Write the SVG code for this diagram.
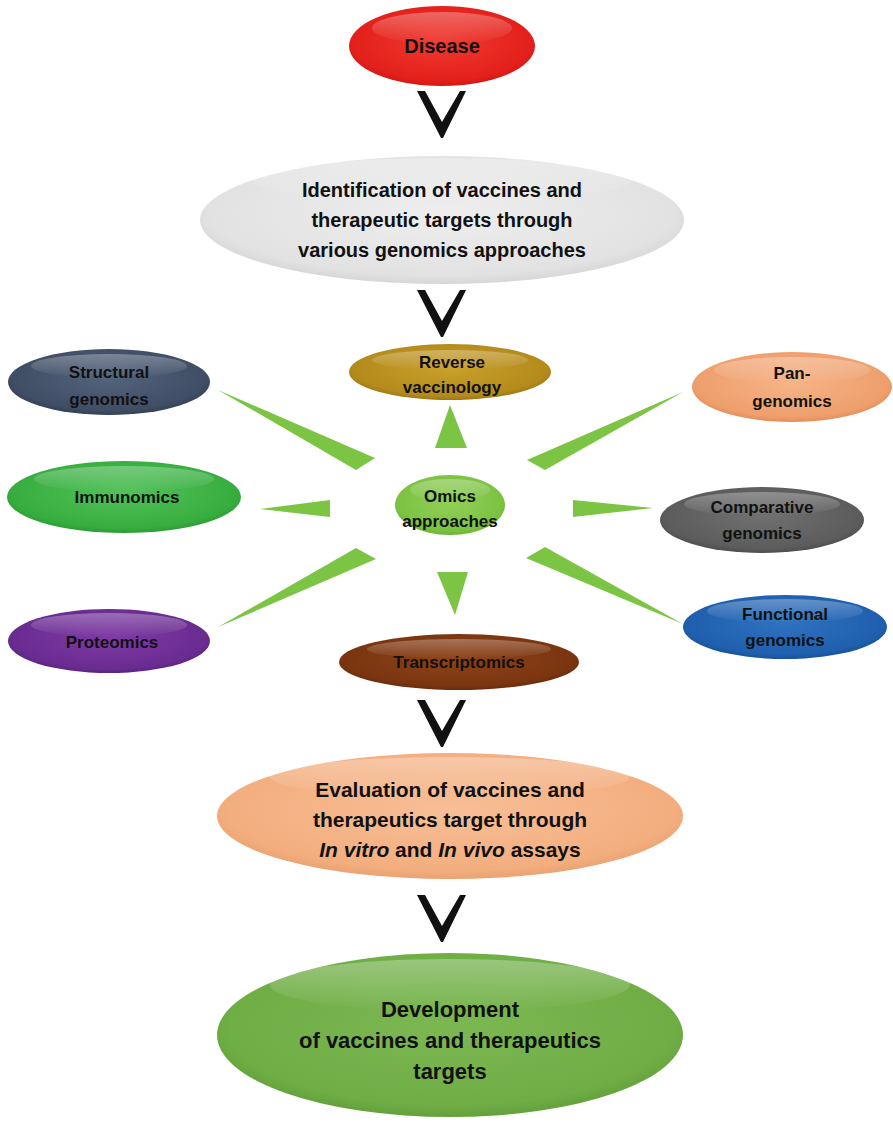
<svg xmlns="http://www.w3.org/2000/svg" width="893" height="1122" viewBox="0 0 893 1122">
<style>
  text { font-family: "Liberation Sans", Arial, sans-serif; font-weight: bold; fill: #111; text-anchor: middle; }
  .big { font-size: 20px; }
  .mid { font-size: 21px; }
  .lg { font-size: 22px; }
  .sm { font-size: 17px; }
  .chev { fill: #111; }
  .wedge { fill: #7cc443; }
  .shine { fill: url(#shine); }
</style>
<defs>
  <linearGradient id="shine" x1="0" y1="0" x2="0" y2="1">
    <stop offset="0" stop-color="#fff" stop-opacity="0.3"/>
    <stop offset="1" stop-color="#fff" stop-opacity="0"/>
  </linearGradient>
  <radialGradient id="gRed" cx="0.5" cy="0.45" r="0.6"><stop offset="0" stop-color="#f03a30"/><stop offset="0.8" stop-color="#e3201b"/><stop offset="1" stop-color="#c81410"/></radialGradient>
  <radialGradient id="gGrey" cx="0.5" cy="0.45" r="0.6"><stop offset="0" stop-color="#eeeeee"/><stop offset="0.8" stop-color="#e2e2e2"/><stop offset="1" stop-color="#cfcfcf"/></radialGradient>
  <radialGradient id="gGold" cx="0.5" cy="0.45" r="0.6"><stop offset="0" stop-color="#c9a02a"/><stop offset="0.8" stop-color="#b48a1c"/><stop offset="1" stop-color="#8e6a10"/></radialGradient>
  <radialGradient id="gSlate" cx="0.5" cy="0.45" r="0.6"><stop offset="0" stop-color="#54637c"/><stop offset="0.8" stop-color="#3f4d65"/><stop offset="1" stop-color="#2c384c"/></radialGradient>
  <radialGradient id="gPeach" cx="0.5" cy="0.45" r="0.6"><stop offset="0" stop-color="#f6b488"/><stop offset="0.8" stop-color="#ee9f6c"/><stop offset="1" stop-color="#d98550"/></radialGradient>
  <radialGradient id="gGreen" cx="0.5" cy="0.45" r="0.6"><stop offset="0" stop-color="#52c259"/><stop offset="0.8" stop-color="#37ad3f"/><stop offset="1" stop-color="#26902e"/></radialGradient>
  <radialGradient id="gLime" cx="0.5" cy="0.45" r="0.6"><stop offset="0" stop-color="#92d05a"/><stop offset="0.8" stop-color="#7cc242"/><stop offset="1" stop-color="#62a82e"/></radialGradient>
  <radialGradient id="gDark" cx="0.5" cy="0.45" r="0.6"><stop offset="0" stop-color="#707070"/><stop offset="0.8" stop-color="#5c5c5c"/><stop offset="1" stop-color="#444444"/></radialGradient>
  <radialGradient id="gPurple" cx="0.5" cy="0.45" r="0.6"><stop offset="0" stop-color="#7e3aa6"/><stop offset="0.8" stop-color="#6a2c91"/><stop offset="1" stop-color="#521d74"/></radialGradient>
  <radialGradient id="gBrown" cx="0.5" cy="0.45" r="0.6"><stop offset="0" stop-color="#8e4318"/><stop offset="0.8" stop-color="#7a3510"/><stop offset="1" stop-color="#5c250a"/></radialGradient>
  <radialGradient id="gBlue" cx="0.5" cy="0.45" r="0.6"><stop offset="0" stop-color="#2f72c0"/><stop offset="0.8" stop-color="#1f5fae"/><stop offset="1" stop-color="#154a8c"/></radialGradient>
  <radialGradient id="gEval" cx="0.5" cy="0.45" r="0.6"><stop offset="0" stop-color="#f8be96"/><stop offset="0.8" stop-color="#f3ae7f"/><stop offset="1" stop-color="#e39a68"/></radialGradient>
  <radialGradient id="gDev" cx="0.5" cy="0.45" r="0.6"><stop offset="0" stop-color="#7cb852"/><stop offset="0.8" stop-color="#6fad45"/><stop offset="1" stop-color="#5c9836"/></radialGradient>
  <polygon id="chevron" points="417,0 425,0 442,31 460,0 466,0 443,47 441,47"/>
</defs>
<rect width="893" height="1122" fill="#fff"/>

<g id="connectors">
  <use href="#chevron" class="chev" y="91"/>
  <use href="#chevron" class="chev" y="290"/>
  <use href="#chevron" class="chev" y="700"/>
  <use href="#chevron" class="chev" y="895"/>
  <polygon class="wedge" points="450,405 435,448 467,448"/>
  <polygon class="wedge" points="218,390 375,458 356,470"/>
  <polygon class="wedge" points="683,392 527,460 545,470"/>
  <polygon class="wedge" points="260,509 330,500 330,517"/>
  <polygon class="wedge" points="653,508 573,500 573,517"/>
  <polygon class="wedge" points="218,627 356,548 376,559"/>
  <polygon class="wedge" points="683,624 526,558 545,547"/>
  <polygon class="wedge" points="455,615 437,572 468,572"/>
</g>

<g id="disease">
  <ellipse cx="442" cy="46" rx="93" ry="40" fill="url(#gRed)"/>
  <ellipse cx="442" cy="28" rx="70" ry="16" class="shine"/>
  <text class="big" x="442" y="53">Disease</text>
</g>

<g id="identification">
  <ellipse cx="442" cy="220" rx="242" ry="64" fill="url(#gGrey)"/>
  <ellipse cx="442" cy="180" rx="190" ry="22" class="shine"/>
  <text class="big" x="442" y="197">Identification of vaccines and</text>
  <text class="big" x="442" y="227">therapeutic targets through</text>
  <text class="big" x="442" y="257">various genomics approaches</text>
</g>

<g id="reverse-vaccinology">
  <ellipse cx="450" cy="372" rx="101" ry="28" fill="url(#gGold)"/>
  <ellipse cx="450" cy="360" rx="78" ry="10" class="shine"/>
  <text class="sm" x="452" y="368">Reverse</text>
  <text class="sm" x="452" y="393">vaccinology</text>
</g>

<g id="structural-genomics">
  <ellipse cx="109" cy="382" rx="101" ry="33" fill="url(#gSlate)"/>
  <ellipse cx="109" cy="366" rx="78" ry="12" class="shine"/>
  <text class="sm" x="109" y="378">Structural</text>
  <text class="sm" x="109" y="405">genomics</text>
</g>

<g id="pan-genomics">
  <ellipse cx="792" cy="387" rx="100" ry="35" fill="url(#gPeach)"/>
  <ellipse cx="792" cy="370" rx="78" ry="13" class="shine"/>
  <text class="sm" x="792" y="379">Pan-</text>
  <text class="sm" x="792" y="407">genomics</text>
</g>

<g id="immunomics">
  <ellipse cx="124" cy="497" rx="117" ry="36" fill="url(#gGreen)"/>
  <ellipse cx="124" cy="479" rx="90" ry="13" class="shine"/>
  <text class="sm" x="127" y="503">Immunomics</text>
</g>

<g id="omics-approaches">
  <ellipse cx="450" cy="505" rx="55" ry="30" fill="url(#gLime)"/>
  <ellipse cx="450" cy="490" rx="40" ry="11" class="shine"/>
  <text class="sm" x="450" y="502">Omics</text>
  <text class="sm" x="450" y="527">approaches</text>
</g>

<g id="comparative-genomics">
  <ellipse cx="762" cy="520" rx="102" ry="33" fill="url(#gDark)"/>
  <ellipse cx="762" cy="504" rx="78" ry="12" class="shine"/>
  <text class="sm" x="762" y="513">Comparative</text>
  <text class="sm" x="762" y="539">genomics</text>
</g>

<g id="proteomics">
  <ellipse cx="109" cy="641" rx="101" ry="32" fill="url(#gPurple)"/>
  <ellipse cx="109" cy="625" rx="78" ry="12" class="shine"/>
  <text class="sm" x="112" y="648">Proteomics</text>
</g>

<g id="transcriptomics">
  <ellipse cx="459" cy="662" rx="120" ry="28" fill="url(#gBrown)"/>
  <ellipse cx="459" cy="649" rx="92" ry="10" class="shine"/>
  <text class="sm" x="459" y="668">Transcriptomics</text>
</g>

<g id="functional-genomics">
  <ellipse cx="785" cy="627" rx="102" ry="32" fill="url(#gBlue)"/>
  <ellipse cx="785" cy="611" rx="78" ry="12" class="shine"/>
  <text class="sm" x="785" y="620">Functional</text>
  <text class="sm" x="785" y="646">genomics</text>
</g>

<g id="evaluation">
  <ellipse cx="450" cy="816" rx="233" ry="63" fill="url(#gEval)"/>
  <ellipse cx="450" cy="777" rx="180" ry="20" class="shine"/>
  <text class="mid" x="450" y="797">Evaluation of vaccines and</text>
  <text class="mid" x="450" y="827">therapeutics target through</text>
  <text class="mid" x="450" y="857"><tspan font-style="italic">In vitro</tspan> and <tspan font-style="italic">In vivo</tspan> assays</text>
</g>

<g id="development">
  <ellipse cx="450" cy="1035" rx="233" ry="82" fill="url(#gDev)"/>
  <ellipse cx="450" cy="985" rx="180" ry="26" class="shine"/>
  <text class="lg" x="450" y="1017">Development</text>
  <text class="lg" x="450" y="1048">of vaccines and therapeutics</text>
  <text class="lg" x="450" y="1079">targets</text>
</g>
</svg>
